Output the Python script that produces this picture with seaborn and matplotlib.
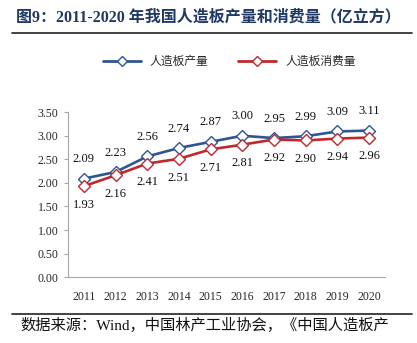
import matplotlib
matplotlib.use("Agg")
import matplotlib.pyplot as plt
import seaborn as sns
import pandas as pd
from matplotlib.lines import Line2D

years = ["2011", "2012", "2013", "2014", "2015", "2016", "2017", "2018", "2019", "2020"]
production = [2.09, 2.23, 2.56, 2.74, 2.87, 3.00, 2.95, 2.99, 3.09, 3.11]
consumption = [1.93, 2.16, 2.41, 2.51, 2.71, 2.81, 2.92, 2.90, 2.94, 2.96]
series_names = ["人造板产量", "人造板消费量"]
y_ticks = [0.0, 0.5, 1.0, 1.5, 2.0, 2.5, 3.0, 3.5]
title = "图9：2011-2020 年我国人造板产量和消费量（亿立方）"
source = "数据来源：Wind，中国林产工业协会，《中国人造板产"

sns.set_theme(style="white")
plt.rcParams['font.family'] = ['Liberation Serif', 'Noto Sans CJK SC', 'DejaVu Sans']

blue = "#2E5597"
red = "#C0282D"

fig = plt.figure(figsize=(4.17, 3.43), dpi=100)
ax = fig.add_axes([0.163, 0.192, 0.76, 0.481])

x_idx = list(range(len(years)))
df = pd.DataFrame({"x": x_idx * 2,
                   "value": production + consumption,
                   "series": [series_names[0]] * len(years) + [series_names[1]] * len(years)})

for name, col in zip(series_names, [blue, red]):
    sub = df[df["series"] == name]
    sns.lineplot(data=sub, x="x", y="value", ax=ax, color=col, linewidth=1.9,
                 marker="D", markersize=6, markerfacecolor="white",
                 markeredgecolor=col, markeredgewidth=1.0, legend=False)

for i, v in enumerate(production):
    ax.annotate(f"{v:.2f}", (i, v), xytext=(0, 14), textcoords="offset points",
                ha="center", va="center", fontsize=9, color="#111111")
for i, v in enumerate(consumption):
    ax.annotate(f"{v:.2f}", (i, v), xytext=(0, -13.5), textcoords="offset points",
                ha="center", va="center", fontsize=9, color="#111111")

ax.set_xlim(-0.5, len(years) - 0.5)
ax.set_ylim(0, 3.5)
ax.set_yticks(y_ticks)
ax.set_yticklabels([f"{t:.2f}" for t in y_ticks], fontsize=8.5)
ax.set_xticks(x_idx)
ax.set_xticklabels(years, fontsize=8.5)
ax.set_xlabel("")
ax.set_ylabel("")
for s in ["top", "right"]:
    ax.spines[s].set_visible(False)
for s in ["left", "bottom"]:
    ax.spines[s].set_color("#A6A6A6")
    ax.spines[s].set_linewidth(0.8)
ax.tick_params(axis="y", which="both", left=True, length=3, width=0.8, color="#A6A6A6", pad=4)
ax.tick_params(axis="x", bottom=False, pad=4)

handles = [Line2D([], [], color=c, lw=2.0, marker="D", ms=5, mfc="white", mec=c)
           for c in [blue, red]]
fig.legend(handles, series_names, loc="center", bbox_to_anchor=(0.55, 0.82), ncol=2,
           frameon=False, handlelength=3.2, columnspacing=2.5,
           prop={'family': ['Noto Sans CJK SC'], 'size': 8.5})

fig.text(0.5, 0.948, title, ha="center", va="center", fontsize=11.5, fontweight="bold",
         color="#1F3864")
fig.add_artist(Line2D([0.029, 0.988], [0.904, 0.904], color="#222222", lw=1.2))
fig.add_artist(Line2D([0.029, 0.988], [0.086, 0.086], color="#222222", lw=1.2))
fig.text(0.05, 0.05, source, ha="left", va="center", fontsize=11, color="#111111")

fig.savefig("out.png", dpi=100)
